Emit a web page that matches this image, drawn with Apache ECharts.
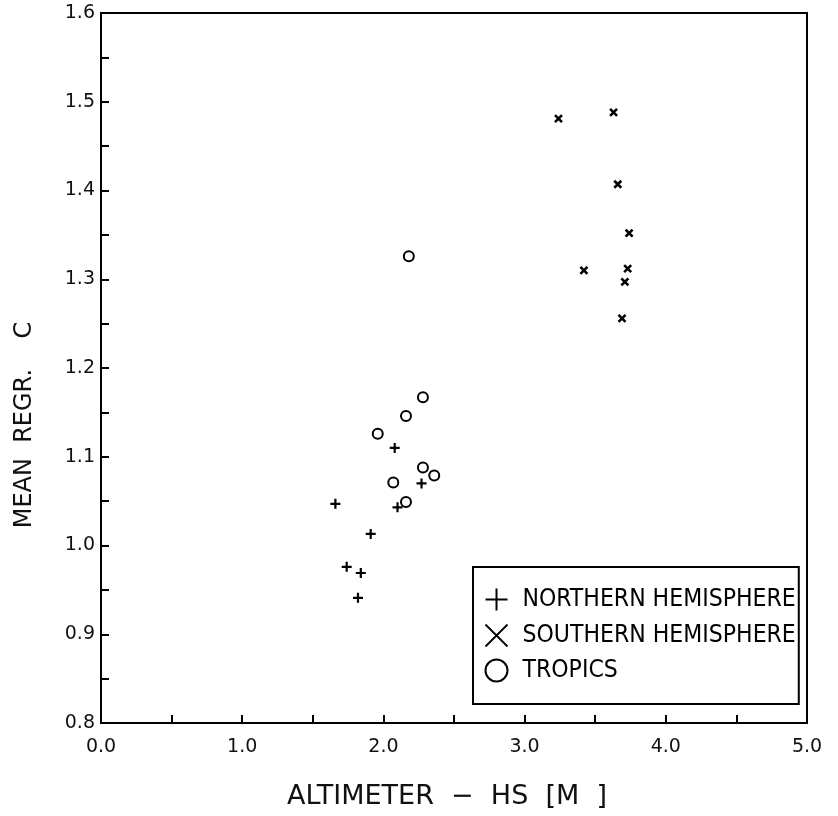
<!DOCTYPE html>
<html>
<head>
<meta charset="utf-8">
<script src="https://cdn.jsdelivr.net/npm/echarts@6/dist/echarts.min.js"></script>
<style>
html,body{margin:0;padding:0;background:#fff;}
#chart{width:838px;height:816px;}
</style>
</head>
<body>
<div id="chart"></div>
<script>
// Data
const seriesNames = ['NORTHERN HEMISPHERE', 'SOUTHERN HEMISPHERE', 'TROPICS'];
const northernX = [2.08, 2.27, 2.10, 1.66, 1.91, 1.74, 1.84, 1.82];
const northernY = [1.110, 1.070, 1.043, 1.047, 1.013, 0.976, 0.969, 0.941];
const southernX = [3.63, 3.24, 3.66, 3.74, 3.42, 3.73, 3.71, 3.69];
const southernY = [1.488, 1.481, 1.407, 1.352, 1.310, 1.312, 1.297, 1.256];
const tropicsX = [2.18, 2.28, 2.16, 1.96, 2.28, 2.36, 2.07, 2.16];
const tropicsY = [1.326, 1.167, 1.146, 1.126, 1.088, 1.079, 1.071, 1.049];
const xTickLabels = ['0.0', '1.0', '2.0', '3.0', '4.0', '5.0'];
const yTickLabels = ['0.8', '0.9', '1.0', '1.1', '1.2', '1.3', '1.4', '1.5', '1.6'];

function zip(xs, ys) { return xs.map((x, i) => [x, ys[i]]); }

const plusPath = 'path://M0,5L10,5M5,0L5,10';
const crossPath = 'path://M0,0L10,10M10,0L0,10';

const chart = echarts.init(document.getElementById('chart'));
const labelFont = 'DejaVu Sans';
chart.setOption({
  backgroundColor: '#fff',
  animation: false,
  grid: { left: 101, right: 31, top: 13, bottom: 93, show: true, borderColor: '#000', borderWidth: 2 },
  xAxis: {
    type: 'value', min: 0, max: 5, interval: 0.5,
    name: 'ALTIMETER  −  HS  [M  ]', nameLocation: 'middle', nameGap: 60,
    nameTextStyle: { fontFamily: labelFont, fontSize: 27, color: '#111', padding: [0, 14, 0, 0] },
    axisLine: { lineStyle: { color: '#000', width: 2 } },
    axisTick: { inside: true, length: 8, lineStyle: { color: '#000', width: 2 } },
    splitLine: { show: false },
    axisLabel: {
      fontFamily: labelFont, fontSize: 19, color: '#111', margin: 15,
      formatter: v => { const r = Math.round(v * 10); return r % 10 === 0 ? xTickLabels[r / 10] : ''; }
    }
  },
  yAxis: {
    type: 'value', min: 0.8, max: 1.6, interval: 0.05,
    name: 'MEAN  REGR.    C', nameLocation: 'middle', nameGap: 64, nameRotate: 90,
    nameTextStyle: { fontFamily: labelFont, fontSize: 24, color: '#111', padding: [0, 114, 0, 0] },
    axisLine: { lineStyle: { color: '#000', width: 2 } },
    axisTick: { inside: true, length: 8, lineStyle: { color: '#000', width: 2 } },
    splitLine: { show: false },
    axisLabel: {
      fontFamily: labelFont, fontSize: 19, color: '#111', margin: 6,
      formatter: v => { const r = Math.round(v * 100); return r % 10 === 0 ? yTickLabels[(r - 80) / 10] : ''; }
    }
  },
  legend: {
    orient: 'vertical', left: 473, top: 567,
    padding: [19, 3, 21, 10], itemGap: 9, itemWidth: 22, itemHeight: 22,
    borderColor: '#000', borderWidth: 2, backgroundColor: '#fff',
    textStyle: { fontFamily: '"Liberation Sans Narrow", "DejaVu Sans Condensed", "Arial Narrow", sans-serif', fontSize: 24.5, color: '#000', padding: [0, 0, 0, 10] },
    itemStyle: { borderWidth: 2, borderColor: '#000' },
    data: [
      { name: seriesNames[0], icon: plusPath, itemStyle: { color: 'none', borderColor: '#000', borderWidth: 2 } },
      { name: seriesNames[1], icon: crossPath, itemStyle: { color: 'none', borderColor: '#000', borderWidth: 1.8 } },
      { name: seriesNames[2], icon: 'circle', itemStyle: { color: '#fff', borderColor: '#000', borderWidth: 2 } }
    ]
  },
  series: [
    { name: seriesNames[0], type: 'scatter', symbol: plusPath, symbolSize: 10,
      itemStyle: { color: 'none', borderColor: '#000', borderWidth: 2.2, opacity: 1 },
      data: zip(northernX, northernY) },
    { name: seriesNames[1], type: 'scatter', symbol: crossPath, symbolSize: 7,
      itemStyle: { color: 'none', borderColor: '#000', borderWidth: 2.6, opacity: 1 },
      data: zip(southernX, southernY) },
    { name: seriesNames[2], type: 'scatter', symbol: 'circle', symbolSize: 10,
      itemStyle: { color: '#fff', borderColor: '#000', borderWidth: 2, opacity: 1 },
      data: zip(tropicsX, tropicsY) }
  ]
});
</script>
</body>
</html>
